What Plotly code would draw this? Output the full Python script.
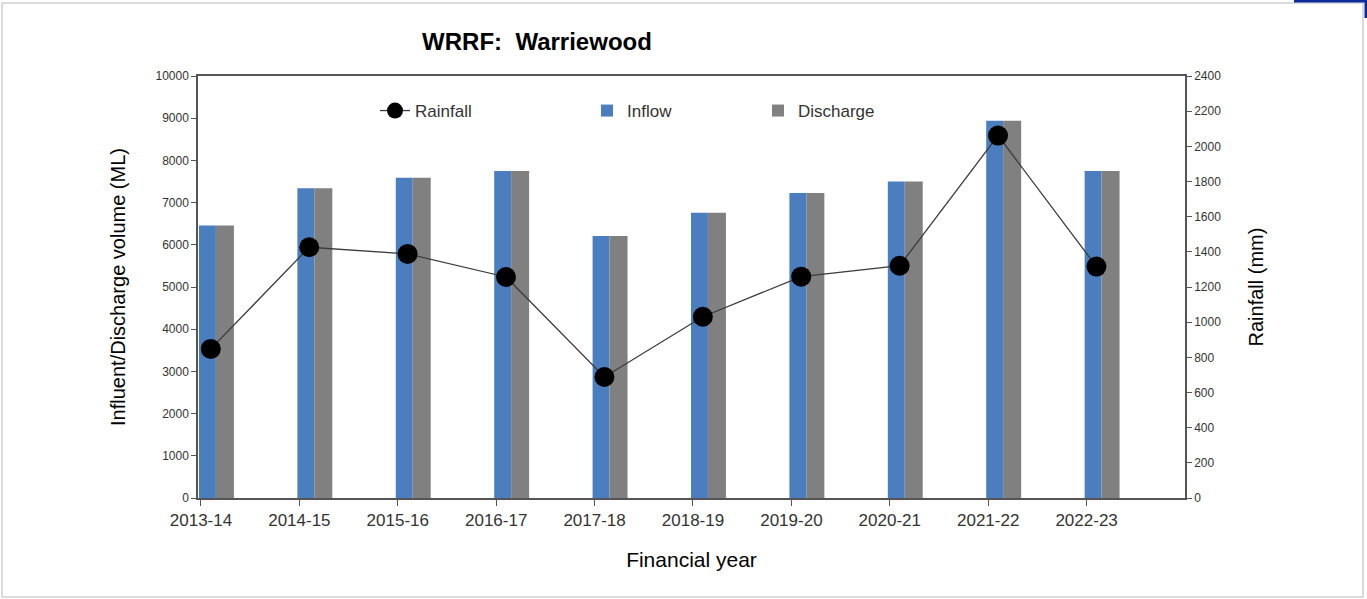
import plotly.graph_objects as go

years = ["2013-14", "2014-15", "2015-16", "2016-17", "2017-18",
         "2018-19", "2019-20", "2020-21", "2021-22", "2022-23"]
inflow = [6460, 7340, 7590, 7750, 6210, 6760, 7230, 7500, 8940, 7750]
discharge = [6460, 7340, 7590, 7750, 6210, 6760, 7230, 7500, 8940, 7750]
rainfall = [848, 1426, 1388, 1257, 688, 1031, 1259, 1321, 2061, 1316]

left_ticks = list(range(0, 10001, 1000))
right_ticks = list(range(0, 2401, 200))

FONT = "Liberation Sans, Arial, sans-serif"
idx = list(range(len(years)))

# plot area geometry (pixels) used for decoration placement
W, H = 1367, 599
L, R, T, B = 198, 1185, 76, 498
pw, ph = R - L, B - T


def px(x):
    return (x - L) / pw


def py(y):
    return (B - y) / ph


fig = go.Figure()
fig.add_trace(go.Bar(
    x=idx, y=inflow, name="Inflow", legend="legend2", showlegend=True,
    marker=dict(color="#4a7ebf", line=dict(width=0)),
    offset=-0.02, width=0.172,
))
fig.add_trace(go.Bar(
    x=idx, y=discharge, name="Discharge", legend="legend3", showlegend=True,
    marker=dict(color="#808080", line=dict(width=0)),
    offset=0.152, width=0.183,
))
fig.add_trace(go.Scatter(
    x=[i + 0.1 for i in idx], y=rainfall, name="Rainfall", yaxis="y2", legend="legend",
    showlegend=True, mode="lines+markers",
    line=dict(color="#3c3c3c", width=1.3),
    marker=dict(color="black", size=20),
))

axis_col = "#555555"
leg_font = dict(size=17, color="#333333")
fig.update_layout(
    width=W, height=H, showlegend=True,
    margin=dict(l=L, r=W - R, t=T, b=H - B),
    paper_bgcolor="white", plot_bgcolor="white",
    barmode="overlay",
    font=dict(family=FONT, color="#222222"),
    title=dict(text="<b>WRRF:  Warriewood</b>", x=537 / W, xanchor="center",
               y=1 - 42 / H, yanchor="middle",
               font=dict(size=24, color="black", family=FONT)),
    xaxis=dict(
        range=[-0.03, 10.0], tickmode="array", tickvals=idx, ticktext=years,
        showgrid=False, zeroline=False, showline=True, linecolor=axis_col, linewidth=1.5,
        mirror=True, ticks="outside", ticklen=6, tickcolor=axis_col,
        tickfont=dict(size=17, color="#333333"),
        title=dict(text="Financial year", font=dict(size=21, color="black"), standoff=23),
    ),
    yaxis=dict(
        range=[0, 10000], tickmode="array", tickvals=left_ticks,
        ticktext=[str(v) for v in left_ticks],
        showgrid=False, zeroline=False, showline=True, linecolor=axis_col, linewidth=1.5,
        ticks="outside", ticklen=5, tickcolor=axis_col,
        tickfont=dict(size=12, color="#333333"),
        title=dict(text="Influent/Discharge volume (ML)", font=dict(size=20, color="black"),
                   standoff=24),
    ),
    yaxis2=dict(
        range=[0, 2400], tickmode="array", tickvals=right_ticks,
        ticktext=[str(v) for v in right_ticks], overlaying="y", side="right",
        showgrid=False, zeroline=False, showline=True, linecolor=axis_col, linewidth=1.5,
        ticks="outside", ticklen=5, tickcolor=axis_col,
        tickfont=dict(size=12, color="#333333"),
        title=dict(text="Rainfall (mm)", font=dict(size=20, color="black"), standoff=29),
    ),
    legend=dict(x=px(375), xanchor="left", y=py(111), yanchor="middle",
                font=leg_font, bgcolor="rgba(0,0,0,0)", visible=True),
    legend2=dict(x=px(587), xanchor="left", y=py(111), yanchor="middle",
                 font=leg_font, bgcolor="rgba(0,0,0,0)"),
    legend3=dict(x=px(758), xanchor="left", y=py(111), yanchor="middle",
                 font=leg_font, bgcolor="rgba(0,0,0,0)"),
    shapes=[
        dict(type="rect", xref="paper", yref="paper",
             x0=px(2), x1=px(1363), y0=py(597), y1=py(3),
             line=dict(color="#d0d0d0", width=1.5), fillcolor="rgba(0,0,0,0)", layer="below"),
        dict(type="line", xref="paper", yref="paper",
             x0=px(1294), x1=px(1367), y0=py(1), y1=py(1),
             line=dict(color="#0b2a99", width=3)),
        dict(type="line", xref="paper", yref="paper",
             x0=px(1366), x1=px(1366), y0=py(0), y1=py(18),
             line=dict(color="#0b2a99", width=3)),
    ],
)

fig.write_html(
    "out.html",
    config={"displayModeBar": False},
    post_script="document.body.style.margin='0';document.body.style.padding='0';"
                "document.body.style.overflow='hidden';",
)
